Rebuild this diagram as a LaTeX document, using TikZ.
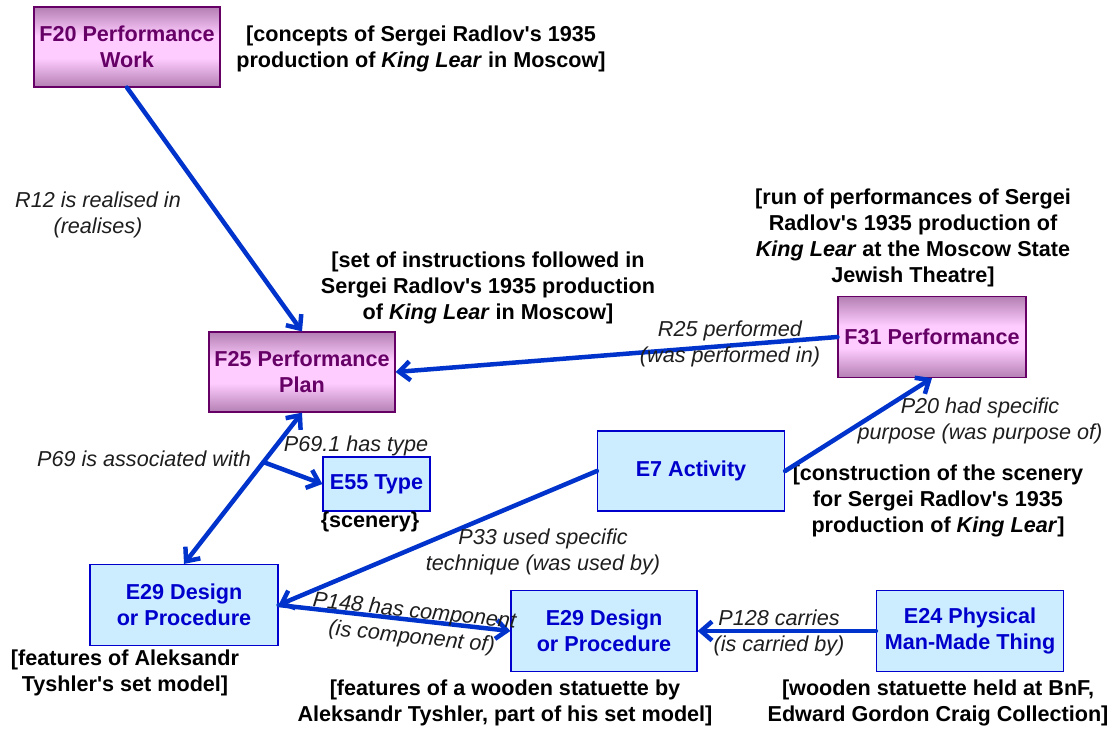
\documentclass[tikz,border=0pt]{standalone}
\usepackage{fontspec}
\setmainfont{Liberation Sans}
\usetikzlibrary{arrows.meta,calc}
\definecolor{pedge}{RGB}{180,128,180}
\definecolor{pmid}{RGB}{255,204,255}
\definecolor{pdark}{RGB}{102,0,102}
\definecolor{bfill}{RGB}{204,236,255}
\definecolor{bdark}{RGB}{0,0,204}
\definecolor{lineblue}{RGB}{0,51,204}
\definecolor{labgray}{RGB}{30,30,30}
\pgfdeclareverticalshading{plumshade}{100bp}{color(0bp)=(pedge); color(25bp)=(pedge); color(43bp)=(pmid); color(57bp)=(pmid); color(75bp)=(pedge); color(100bp)=(pedge)}
\newcommand{\ap}{\textquotesingle}
\tikzset{
  pbox/.style={draw=pdark, line width=1.2pt, shading=plumshade, text=pdark, font=\bfseries,
    align=center, minimum width=186pt, minimum height=80pt, inner sep=0pt},
  bbox/.style={draw=bdark, line width=1.2pt, fill=bfill, text=bdark, font=\bfseries,
    align=center, minimum width=186pt, minimum height=80pt, inner sep=0pt},
  ann/.style={font=\bfseries, align=center, inner sep=0pt, text=black},
  lab/.style={font=\itshape, align=center, inner sep=0pt, text=labgray},
  conn/.style={draw=lineblue, line width=4.5pt, line cap=round},
  tip/.style={-{Straight Barb[length=11pt,width=19pt]}},
  tips/.style={{Straight Barb[length=11pt,width=19pt]}-{Straight Barb[length=11pt,width=19pt]}},
}
\begin{document}
\begin{tikzpicture}[x=1pt,y=-1pt]
\fontsize{21.6}{26}\selectfont
\useasboundingbox (0,0) rectangle (1111,729);
\fill[white] (0,0) rectangle (1111,729);

% nodes
\node[pbox] (F20) at (127,47) {F20 Performance\\Work};
\node[pbox] (F25) at (302,372) {F25 Performance\\Plan};
\node[pbox, minimum width=188pt, minimum height=81pt] (F31) at (932,337) {F31 Performance};
\node[bbox, minimum width=107pt, minimum height=54pt] (E55) at (376.5,484) {E55 Type};
\node[bbox, minimum width=187pt] (E7) at (691,471) {E7 Activity};
\node[bbox, minimum width=188pt, minimum height=81pt] (E29a) at (184,605) {E29 Design\\or Procedure};
\node[bbox, minimum height=81pt] (E29b) at (604,631) {E29 Design\\or Procedure};
\node[bbox, minimum width=187pt, minimum height=81pt] (E24) at (970,631) {E24 Physical\\Man-Made Thing};

% annotations
\node[ann] (aF20) at (421,49) {[concepts of Sergei Radlov\ap s 1935\\production of \textit{King Lear} in Moscow]};
\node[ann] (aF25) at (488,288) {[set of instructions followed in\\Sergei Radlov\ap s 1935 production\\of \textit{King Lear} in Moscow]};
\node[ann] (aF31) at (913,237.5) {[run of performances of Sergei\\Radlov\ap s 1935 production of\\\textit{King Lear} at the Moscow State\\Jewish Theatre]};
\node[ann] (aE55) at (370,522) {\{scenery\}};
\node[ann] (aE7) at (938,501) {[construction of the scenery\\for Sergei Radlov\ap s 1935\\production of \textit{King Lear}]};
\node[ann] (aE29a) at (125,673) {[features of Aleksandr\\Tyshler\ap s set model]};
\node[ann] (aE29b) at (505,703) {[features of a wooden statuette by\\Aleksandr Tyshler, part of his set model]};
\node[ann] (aE24) at (938,703) {[wooden statuette held at BnF,\\Edward Gordon Craig Collection]};

% connectors
\draw[conn, tip] (F20.south) -- (F25.north);
\draw[conn, tip] (F31.west) -- (F25.east);
\draw[conn, tip] (E7.east) -- (F31.south);
\draw[conn, tip] (E7.west) -- (E29a.east);
\draw[conn, tips] (F25.south) -- (E29a.north);
\coordinate (br) at ($(F25.south)!0.327!(E29a.north)$);
\draw[conn, tip] (br) -- (E55.west);
\draw[conn, tip] (E29a.east) -- (E29b.west);
\draw[conn, tip] (E24.west) -- (E29b.east);

% labels
\node[lab] (lR12) at (98,215) {R12 is realised in\\(realises)};
\node[lab] (lR25) at (730,344) {R25 performed\\(was performed in)};
\node[lab] (lP20) at (980,421) {P20 had specific\\purpose (was purpose of)};
\node[lab] (lP69) at (144,459) {P69 is associated with};
\node[lab] (lP691) at (356,446) {P69.1 has type};
\node[lab] (lP33) at (543,552) {P33 used specific\\technique (was used by)};
\node[lab, rotate=-6] (lP148) at (413,625) {P148 has component\\(is component of)};
\node[lab] (lP128) at (779,633) {P128 carries\\(is carried by)};
\end{tikzpicture}
\end{document}
